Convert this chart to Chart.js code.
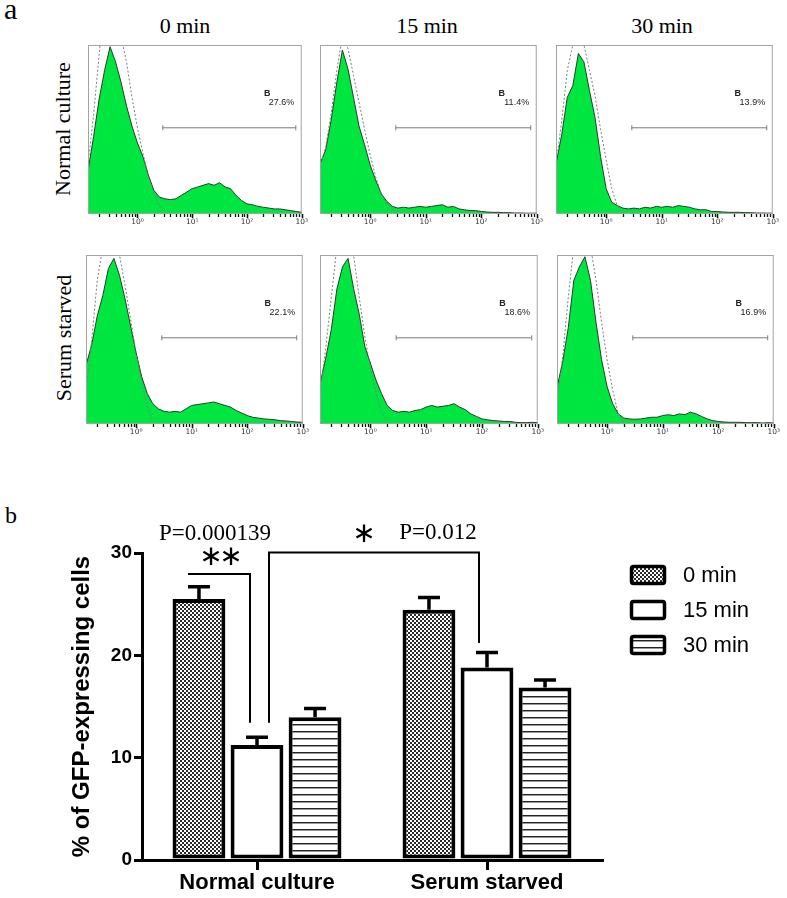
<!DOCTYPE html>
<html>
<head>
<meta charset="utf-8">
<script src="https://cdn.jsdelivr.net/npm/chart.js@4.4.1/dist/chart.umd.min.js"></script>
<style>
  body { margin: 0; background: #fff; }
  #page { position: relative; width: 787px; height: 898px; overflow: hidden; background: #fff; }
  .abs { position: absolute; }
  .serif { font-family: 'Liberation Serif', 'Times New Roman', serif; color: #000; white-space: nowrap; }
  .title { transform: translateX(-50%); font-size: 22px; line-height: 22px; }
  .vlabel { transform: translate(-50%, -50%) rotate(-90deg); font-size: 22px; line-height: 22px; }
</style>
</head>
<body>
<div id="page">
  <div class="abs serif" style="left:4px;top:-6px;font-size:30px;line-height:30px">a</div>
  <div class="abs serif" style="left:5px;top:503px;font-size:24px;line-height:24px">b</div>

  <div class="abs serif title" style="left:185px;top:15px">0 min</div>
  <div class="abs serif title" style="left:427px;top:15px">15 min</div>
  <div class="abs serif title" style="left:662px;top:15px">30 min</div>

  <div class="abs serif vlabel" style="left:63px;top:129px">Normal culture</div>
  <div class="abs serif vlabel" style="left:64px;top:338px">Serum starved</div>

  <canvas id="bars" class="abs" width="787" height="398" style="left:0;top:500px"></canvas>
</div>

<script>
// ---- panel a : histograms (log10 of fluorescence, one value per bin) ----
const BINS = [-0.9, -0.8, -0.7, -0.6, -0.5, -0.4, -0.3, -0.2, -0.1, 0.0,
              0.1, 0.2, 0.3, 0.4, 0.5, 0.6, 0.7, 0.8, 0.9, 1.0,
              1.1, 1.2, 1.3, 1.4, 1.5, 1.6, 1.7, 1.8, 1.9, 2.0,
              2.1, 2.2, 2.3, 2.4, 2.5, 2.6, 2.7, 2.8, 2.9, 3.0];

const SAMPLE_NC_0 = [0.26, 0.46, 0.68, 0.85, 0.99, 0.90, 0.78, 0.64, 0.52, 0.42,
                     0.34, 0.23, 0.14, 0.10, 0.09, 0.085, 0.09, 0.11, 0.13, 0.15,
                     0.16, 0.17, 0.18, 0.17, 0.185, 0.16, 0.15, 0.11, 0.08, 0.06,
                     0.055, 0.045, 0.04, 0.035, 0.03, 0.03, 0.025, 0.02, 0.015, 0.01];
const SAMPLE_NC_15 = [0.30, 0.38, 0.56, 0.78, 0.97, 0.86, 0.69, 0.52, 0.41, 0.29,
                      0.20, 0.12, 0.075, 0.045, 0.035, 0.04, 0.035, 0.04, 0.045, 0.04,
                      0.045, 0.05, 0.055, 0.04, 0.045, 0.03, 0.025, 0.02, 0.02, 0.015,
                      0.012, 0.01, 0.01, 0.008, 0.008, 0.006, 0.006, 0.005, 0.005, 0.005];
const SAMPLE_NC_30 = [0.30, 0.47, 0.69, 0.76, 0.95, 0.90, 0.73, 0.57, 0.34, 0.15,
                      0.07, 0.05, 0.035, 0.03, 0.035, 0.03, 0.04, 0.035, 0.045, 0.04,
                      0.045, 0.04, 0.05, 0.045, 0.04, 0.03, 0.025, 0.025, 0.015, 0.015,
                      0.012, 0.01, 0.01, 0.01, 0.008, 0.008, 0.006, 0.006, 0.005, 0.005];
const SAMPLE_SS_0 = [0.35, 0.47, 0.64, 0.76, 0.92, 0.98, 0.88, 0.74, 0.58, 0.42,
                     0.28, 0.18, 0.12, 0.09, 0.075, 0.07, 0.075, 0.07, 0.09, 0.11,
                     0.115, 0.12, 0.125, 0.13, 0.12, 0.11, 0.10, 0.08, 0.065, 0.05,
                     0.04, 0.035, 0.03, 0.028, 0.025, 0.02, 0.018, 0.015, 0.012, 0.01];
const SAMPLE_SS_15 = [0.24, 0.39, 0.56, 0.80, 0.93, 0.98, 0.80, 0.65, 0.46, 0.36,
                      0.26, 0.18, 0.11, 0.08, 0.07, 0.075, 0.07, 0.08, 0.085, 0.10,
                      0.11, 0.10, 0.105, 0.11, 0.12, 0.10, 0.085, 0.06, 0.045, 0.03,
                      0.025, 0.02, 0.018, 0.015, 0.015, 0.01, 0.008, 0.008, 0.01, 0.008];
const SAMPLE_SS_30 = [0.22, 0.37, 0.57, 0.85, 0.93, 0.99, 0.85, 0.60, 0.38, 0.22,
                      0.12, 0.06, 0.035, 0.03, 0.028, 0.03, 0.035, 0.04, 0.04, 0.05,
                      0.055, 0.05, 0.06, 0.055, 0.07, 0.06, 0.045, 0.03, 0.02, 0.015,
                      0.012, 0.01, 0.01, 0.01, 0.008, 0.008, 0.008, 0.006, 0.008, 0.006];

// unstained control, dotted outline (only the first bins are non zero)
const CONTROL_NC_0 = [0.30, 0.59, 0.94, 1.30, 1.50, 1.40, 1.05, 0.90, 0.69, 0.51, 0.36, 0.22, 0.12, 0.045, 0.01];
const CONTROL_NC_15 = [0.28, 0.40, 0.60, 0.85, 1.05, 0.98, 0.82, 0.66, 0.50, 0.35, 0.22, 0.12, 0.06, 0.03, 0.01];
const CONTROL_NC_30 = [0.30, 0.55, 0.85, 1.00, 1.10, 1.00, 0.85, 0.70, 0.50, 0.32, 0.15, 0.05, 0.01];
const CONTROL_SS_0 = [0.20, 0.50, 0.85, 1.05, 1.15, 1.10, 1.00, 0.82, 0.62, 0.42, 0.25, 0.10, 0.02];
const CONTROL_SS_15 = [0.20, 0.45, 0.75, 1.05, 1.15, 1.10, 1.00, 0.75, 0.52, 0.33, 0.18, 0.07, 0.02];
const CONTROL_SS_30 = [0.15, 0.40, 0.75, 1.05, 1.15, 1.15, 1.05, 0.85, 0.60, 0.38, 0.20, 0.06, 0.01];

const GATE_RANGE = [2.9, 780];
const GATE_LEVEL = 0.51;
const GATE_PCT = ['27.6%', '11.4%', '13.9%', '22.1%', '18.6%', '16.9%'];
const DECADE_LABELS = { 1: '10\u2070', 10: '10\u00b9', 100: '10\u00b2', 1000: '10\u00b3' };

// ---- panel b : bar chart ----
const GROUPS = ['Normal culture', 'Serum starved'];
const SERIES = ['0 min', '15 min', '30 min'];
const MEAN_0 = [25.5, 24.45];
const MEAN_15 = [11.25, 18.8];
const MEAN_30 = [13.95, 16.85];
const ERR_0 = [1.2, 1.2];
const ERR_15 = [0.75, 1.47];
const ERR_30 = [0.85, 0.75];
const Y_TICKS = [0, 10, 20, 30];

const page = document.getElementById('page');

// tick marks of the log axis: 2..9 x 10^k plus the decades
const TICK_VALUES = [];
for (let e = -1; e <= 2; e++) {
  for (let m = 1; m <= 9; m++) {
    const v = +(m * Math.pow(10, e)).toPrecision(3);
    if (v >= 0.2) TICK_VALUES.push(v);
  }
}
TICK_VALUES.push(1000);

function toPoints(values) {
  return values.map((v, i) => ({ x: Math.pow(10, BINS[i]), y: v }));
}

// box round the plot, tick marks and gate label
const histoDeco = {
  id: 'histoDeco',
  afterDatasetsDraw(chart, args, opts) {
    const { ctx, chartArea: a, scales: { x, y } } = chart;
    ctx.save();
    ctx.strokeStyle = '#a3a3a3';
    ctx.lineWidth = 1;
    ctx.strokeRect(a.left + 0.5, a.top + 0.5, a.right - a.left - 1, a.bottom - a.top - 1);
    ctx.strokeStyle = '#111';
    x.ticks.forEach(t => {
      const px = Math.round(x.getPixelForValue(t.value)) + 0.5;
      ctx.lineWidth = t.major ? 1.6 : 1.3;
      ctx.beginPath();
      ctx.moveTo(px, a.bottom);
      ctx.lineTo(px, a.bottom + (t.major ? 4 : 3));
      ctx.stroke();
    });
    ctx.fillStyle = '#222';
    ctx.textBaseline = 'middle';
    ctx.font = 'bold 9px "Liberation Sans", Arial';
    ctx.textAlign = 'left';
    ctx.fillText('B', x.getPixelForValue(205), y.getPixelForValue(0.71));
    ctx.font = '9px "Liberation Sans", Arial';
    ctx.textAlign = 'right';
    ctx.fillText(opts.pct, x.getPixelForValue(730), y.getPixelForValue(0.66));
    ctx.restore();
  }
};

const histos = [
  { sample: SAMPLE_NC_0, control: CONTROL_NC_0, pct: GATE_PCT[0], box: [86, 43, 303, 214] },
  { sample: SAMPLE_NC_15, control: CONTROL_NC_15, pct: GATE_PCT[1], box: [318, 43, 538, 214] },
  { sample: SAMPLE_NC_30, control: CONTROL_NC_30, pct: GATE_PCT[2], box: [554, 43, 774, 214] },
  { sample: SAMPLE_SS_0, control: CONTROL_SS_0, pct: GATE_PCT[3], box: [84, 253, 304, 424] },
  { sample: SAMPLE_SS_15, control: CONTROL_SS_15, pct: GATE_PCT[4], box: [318, 253, 539, 424] },
  { sample: SAMPLE_SS_30, control: CONTROL_SS_30, pct: GATE_PCT[5], box: [555, 253, 775, 424] }
];

histos.forEach(h => {
  const [L, T, R, B] = h.box;
  const cv = document.createElement('canvas');
  cv.width = R - L + 12;
  cv.height = B - T + 17;
  cv.className = 'abs';
  cv.style.left = (L - 3) + 'px';
  cv.style.top = (T - 3) + 'px';
  page.appendChild(cv);

  new Chart(cv, {
    type: 'line',
    data: {
      datasets: [
        { data: toPoints(h.control), borderColor: '#7d7d7d', borderWidth: 1, borderDash: [2, 2],
          fill: false, pointRadius: 0, tension: 0 },
        { data: [{ x: GATE_RANGE[0], y: GATE_LEVEL }, { x: GATE_RANGE[1], y: GATE_LEVEL }],
          borderColor: '#7a7a7a', borderWidth: 1, fill: false,
          pointStyle: 'line', rotation: 90, pointRadius: 2.5, pointBorderColor: '#7a7a7a', pointBorderWidth: 1 },
        { data: toPoints(h.sample), borderColor: '#254025', borderWidth: 1, backgroundColor: '#00e640',
          fill: 'origin', pointRadius: 0, tension: 0 }
      ]
    },
    options: {
      responsive: false,
      animation: false,
      events: [],
      layout: { padding: { left: 3, top: 3, right: 9, bottom: 0 } },
      plugins: { legend: { display: false }, tooltip: { enabled: false }, histoDeco: { pct: h.pct } },
      scales: {
        x: {
          type: 'logarithmic', min: 0.125, max: 1000,
          afterBuildTicks: s => { s.ticks = TICK_VALUES.map(v => ({ value: v, major: !!DECADE_LABELS[v] })); },
          ticks: { autoSkip: false, maxRotation: 0, padding: 4, color: '#333',
                   font: { family: '"DejaVu Sans", Arial', size: 7.5 },
                   callback: v => DECADE_LABELS[v] || '' },
          grid: { display: false, tickLength: 0 },
          border: { display: false },
          afterFit: s => { s.height = 14; }
        },
        y: { display: false, min: 0, max: 1 }
      }
    },
    plugins: [histoDeco]
  });
});

// ---- fill patterns ----
function checkerPattern(ctx) {
  const c = document.createElement('canvas');
  c.width = 4; c.height = 4;
  const g = c.getContext('2d');
  g.fillStyle = '#fff'; g.fillRect(0, 0, 4, 4);
  g.fillStyle = '#2b2b2b'; g.fillRect(0, 0, 2, 2); g.fillRect(2, 2, 2, 2);
  return ctx.createPattern(c, 'repeat');
}
function stripePattern(ctx) {
  const c = document.createElement('canvas');
  c.width = 4; c.height = 7;
  const g = c.getContext('2d');
  g.fillStyle = '#fff'; g.fillRect(0, 0, 4, 7);
  g.fillStyle = '#222'; g.fillRect(0, 0, 4, 1);
  g.fillStyle = '#999'; g.fillRect(0, 1, 4, 1);
  return ctx.createPattern(c, 'repeat');
}

const barCanvas = document.getElementById('bars');
const bctx = barCanvas.getContext('2d');
const FILLS = [checkerPattern(bctx), '#fff', stripePattern(bctx)];

const errorBars = {
  id: 'errorBars',
  afterDatasetsDraw(chart) {
    const { ctx, scales: { y } } = chart;
    ctx.save();
    ctx.strokeStyle = '#000';
    ctx.lineWidth = 3.5;
    chart.data.datasets.forEach((ds, di) => {
      chart.getDatasetMeta(di).data.forEach((bar, i) => {
        const top = y.getPixelForValue(ds.data[i] + ds.errors[i]);
        ctx.beginPath();
        ctx.moveTo(bar.x, bar.y);
        ctx.lineTo(bar.x, top);
        ctx.moveTo(bar.x - 11, top);
        ctx.lineTo(bar.x + 11, top);
        ctx.stroke();
      });
    });
    ctx.restore();
  }
};

const sigMarks = {
  id: 'sigMarks',
  afterDraw(chart) {
    const { ctx, scales: { y } } = chart;
    const bx = (d, i) => chart.getDatasetMeta(d).data[i].x;
    const py = v => y.getPixelForValue(v);
    ctx.save();
    ctx.strokeStyle = '#000';
    ctx.lineWidth = 2;
    // ** bracket (0 min vs 15 min, normal culture)
    ctx.beginPath();
    ctx.moveTo(bx(0, 0) - 11, py(27.95));
    ctx.lineTo(bx(1, 0) - 7, py(27.95));
    ctx.lineTo(bx(1, 0) - 7, py(13.4));
    ctx.stroke();
    // * bracket (15 min normal vs 15 min starved)
    ctx.beginPath();
    ctx.moveTo(bx(1, 0) + 12, py(13.4));
    ctx.lineTo(bx(1, 0) + 12, py(30.05));
    ctx.lineTo(bx(1, 1) - 8, py(30.05));
    ctx.lineTo(bx(1, 1) - 8, py(21.2));
    ctx.stroke();

    ctx.fillStyle = '#000';
    ctx.textAlign = 'center';
    ctx.textBaseline = 'middle';
    ctx.font = '23px "Liberation Serif", "Times New Roman", serif';
    ctx.fillText('P=0.000139', bx(0, 0) + 16, py(31.9));
    ctx.fillText('P=0.012', bx(1, 1) - 49, py(32.0));
    ctx.font = '28px "DejaVu Sans", sans-serif';
    ctx.fillText('\u2217', bx(0, 0) + 12, py(29.5));
    ctx.fillText('\u2217', bx(0, 0) + 32, py(29.5));
    ctx.fillText('\u2217', bx(2, 0) + 49, py(31.75));
    ctx.restore();
  }
};

const legendBoxes = {
  id: 'legendBoxes',
  afterDraw(chart) {
    const { ctx } = chart;
    ctx.save();
    chart.data.datasets.forEach((ds, i) => {
      const top = 65 + i * 35;
      ctx.beginPath();
      ctx.roundRect(631.5, top + 1.5, 33, 17, 2);
      ctx.fillStyle = ds.backgroundColor;
      ctx.fill();
      ctx.lineWidth = 3.5;
      ctx.strokeStyle = '#000';
      ctx.stroke();
      ctx.fillStyle = '#000';
      ctx.font = '22px "Liberation Sans", Arial, sans-serif';
      ctx.textAlign = 'left';
      ctx.textBaseline = 'middle';
      ctx.fillText(ds.label, 683, top + 11);
    });
    ctx.restore();
  }
};

const errs = [ERR_0, ERR_15, ERR_30];
new Chart(barCanvas, {
  type: 'bar',
  data: {
    labels: GROUPS,
    datasets: [MEAN_0, MEAN_15, MEAN_30].map((m, i) => ({
      label: SERIES[i],
      data: m,
      errors: errs[i],
      backgroundColor: FILLS[i],
      borderColor: '#000',
      borderWidth: 4,
      borderSkipped: false,
      categoryPercentage: 0.757,
      barPercentage: 0.91
    }))
  },
  options: {
    responsive: false,
    animation: false,
    events: [],
    layout: { padding: { left: 60, right: 185, top: 53, bottom: 0 } },
    plugins: { legend: { display: false }, tooltip: { enabled: false } },
    scales: {
      x: {
        offset: true,
        grid: { offset: false, drawOnChartArea: false, tickLength: 10, lineWidth: 3, color: '#000' },
        border: { color: '#000', width: 3 },
        ticks: { color: '#000', padding: 0,
                 font: { family: '"Liberation Sans", Arial', weight: 'bold', size: 22 } },
        afterFit: s => { s.height = 38; }
      },
      y: {
        min: 0, max: 30,
        afterBuildTicks: s => { s.ticks = Y_TICKS.map(v => ({ value: v })); },
        grid: { drawOnChartArea: false, tickLength: 8, lineWidth: 3, color: '#000' },
        border: { color: '#000', width: 3 },
        ticks: { color: '#000', padding: 2,
                 font: { family: '"Liberation Sans", Arial', weight: 'bold', size: 19 } },
        title: { display: true, text: '% of GFP-expressing cells', color: '#000',
                 padding: { top: 8, bottom: 0 },
                 font: { family: '"Liberation Sans", Arial', weight: 'bold', size: 24 } },
        afterFit: s => { s.width = 82; }
      }
    }
  },
  plugins: [errorBars, sigMarks, legendBoxes]
});
</script>
</body>
</html>
